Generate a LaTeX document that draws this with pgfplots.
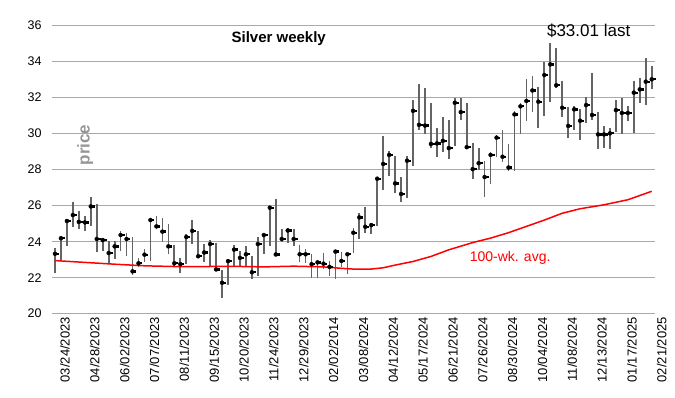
\documentclass[border=0pt]{standalone}
\usepackage{fontspec}
\setmainfont{Liberation Sans}
\usepackage{pgfplots}
\usepackage{pgfplotstable}
\pgfplotsset{compat=1.18}
\definecolor{gridgray}{RGB}{170,170,170}
\definecolor{bargray}{RGB}{100,100,100}
\definecolor{pricegray}{RGB}{150,150,150}
\pgfdeclareplotmark{closetick}{%
  \pgfpathrectangle{\pgfqpoint{-0.9pt}{-1.15pt}}{\pgfqpoint{4.8pt}{2.3pt}}%
  \pgfusepathqfill}
\pgfplotstableread{
i H L C
0 23.67 22.28 23.33
1 24.30 23.00 24.19
2 25.26 23.76 25.15
3 26.23 24.80 25.48
4 25.71 24.70 25.10
5 25.44 24.60 25.07
6 26.46 24.89 25.96
7 26.10 23.40 24.15
8 24.19 23.50 24.09
9 24.06 22.76 23.37
10 24.06 23.04 23.74
11 24.60 23.50 24.37
12 24.50 23.20 24.15
13 24.24 22.15 22.35
14 23.07 22.57 22.80
15 23.60 22.85 23.28
16 25.26 22.94 25.20
17 25.44 24.70 24.85
18 25.30 23.96 24.56
19 24.98 23.30 23.74
20 23.80 22.65 22.80
21 23.07 22.28 22.75
22 24.43 22.76 24.26
23 25.21 23.87 24.60
24 24.60 23.07 23.19
25 23.85 22.85 23.40
26 24.10 22.67 23.87
27 23.93 22.40 22.46
28 22.40 20.85 21.72
29 23.04 21.60 22.92
30 23.82 22.57 23.56
31 23.50 22.60 23.10
32 23.78 22.67 23.30
33 23.20 21.93 22.30
34 24.24 22.11 23.87
35 24.43 23.30 24.37
36 25.96 23.78 25.89
37 26.37 23.22 23.29
38 24.70 23.96 24.15
39 24.74 23.90 24.62
40 24.70 23.78 24.15
41 23.80 22.87 23.30
42 23.60 22.80 23.30
43 23.33 22.00 22.75
44 23.00 22.00 22.85
45 23.37 22.50 22.78
46 22.90 22.10 22.60
47 23.50 21.90 23.45
48 23.43 22.60 22.93
49 23.37 22.19 23.30
50 24.74 23.35 24.50
51 25.62 24.15 25.35
52 25.95 24.50 24.83
53 25.04 24.40 24.92
54 27.60 24.86 27.50
55 29.87 26.85 28.32
56 29.04 27.65 28.82
57 28.74 26.68 27.24
58 27.60 26.22 26.65
59 28.75 26.45 28.50
60 31.88 28.18 31.27
61 32.77 30.20 30.49
62 32.52 30.00 30.45
63 31.70 29.20 29.43
64 30.30 28.72 29.46
65 30.90 29.00 29.60
66 30.76 28.57 29.20
67 31.96 29.30 31.72
68 31.96 30.75 31.20
69 31.70 29.20 29.25
70 29.50 27.50 28.03
71 29.20 28.00 28.36
72 28.50 26.50 27.59
73 28.98 27.20 28.82
74 29.95 28.70 29.78
75 30.20 28.40 28.72
76 29.40 27.95 28.12
77 31.25 27.95 31.07
78 31.68 30.00 31.52
79 33.03 30.69 31.82
80 33.20 31.20 32.40
81 32.60 30.33 31.78
82 33.98 30.97 33.26
83 35.06 31.78 33.85
84 34.75 32.55 32.69
85 32.94 30.94 31.44
86 31.46 29.74 30.43
87 31.54 30.20 31.35
88 31.35 29.65 30.72
89 32.05 30.57 31.59
90 33.35 30.76 31.04
91 31.20 29.14 29.96
92 30.43 29.19 29.96
93 30.30 29.13 30.02
94 31.87 30.10 31.31
95 31.96 30.00 31.15
96 31.55 30.70 31.15
97 32.94 30.02 32.28
98 33.07 31.69 32.46
99 34.20 31.60 32.89
100 33.76 32.46 33.02
}\ohlc
\begin{document}
\begin{tikzpicture}
\path[use as bounding box] (0,0) rectangle (675pt,398pt);
\begin{axis}[
  at={(52pt,84.3pt)}, anchor=south west,
  scale only axis, width=603pt, height=288pt,
  xmin=-0.5, xmax=100.55, ymin=20, ymax=36,
  ytick={20,22,...,36},
  xtick={0,5,...,100},
  xticklabels={03/24/2023,04/28/2023,06/02/2023,07/07/2023,08/11/2023,09/15/2023,10/20/2023,11/24/2023,12/29/2023,02/02/2014,03/08/2024,04/12/2024,05/17/2024,06/21/2024,07/26/2024,08/30/2024,10/04/2024,11/08/2024,12/13/2024,01/17/2025,02/21/2025},
  ymajorgrids, grid style={line width=1.3pt, gridgray},
  axis line style={draw=none}, major tick length=0pt,
  /pgf/number format/assume math mode=true,
  yticklabel style={font=\fontsize{12.5}{14}\selectfont, xshift=-7pt},
  xticklabel style={font=\fontsize{13}{15}\selectfont, rotate=90, anchor=east, yshift=-10pt},
  clip=false,
]
\addplot[only marks, mark=none,
  error bars/.cd, y dir=both, y explicit, error mark=none,
  error bar style={line width=1.7pt, bargray, solid}]
  table[x=i, y=C, y error plus expr=\thisrow{H}-\thisrow{C}, y error minus expr=\thisrow{C}-\thisrow{L}] {\ohlc};
\addplot[only marks, mark=closetick, mark options={black, fill=black, draw=none}]
  table[x=i, y=C] {\ohlc};
\addplot[red, line width=1.5pt, mark=none] coordinates {
(0,22.95) (5,22.85) (10,22.75) (15,22.66) (20,22.62) (25,22.62) (30,22.63) (35,22.60) (40,22.64) (45,22.60) (48,22.52) (50,22.48) (53,22.48) (55,22.55) (57,22.70) (60,22.90) (63,23.18) (66,23.55) (70,23.95) (73,24.20) (76,24.50) (79,24.85) (82,25.20) (85,25.58) (88,25.83) (92,26.05) (96,26.33) (100,26.80)};
\node[font=\bfseries\fontsize{15}{17}\selectfont] at (rel axis cs:0.376,0.955) {Silver weekly};
\node[font=\fontsize{17}{19}\selectfont] at (rel axis cs:0.89,0.982) {\$33.01 last};
\node[font=\bfseries\fontsize{17}{19}\selectfont, text=pricegray, rotate=90] at (rel axis cs:0.055,0.586) {price};
\node[font=\fontsize{14}{16}\selectfont, text=red, anchor=west] at (rel axis cs:0.687,0.193) {100-wk. avg.};
\end{axis}
\end{tikzpicture}
\end{document}
